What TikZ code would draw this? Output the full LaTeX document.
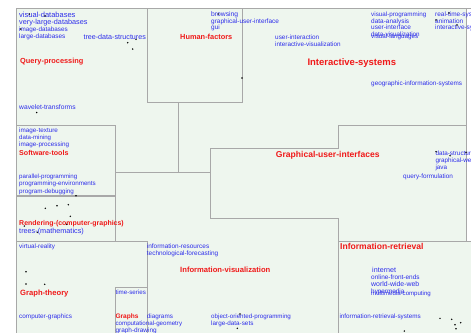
\documentclass[tikz,border=0pt]{standalone}
\usepackage{fontspec}
\setmainfont{Liberation Sans}
\usepackage{xcolor}
\usepackage{tikz}

\definecolor{mapgreen}{RGB}{238,246,238}
\definecolor{framegray}{RGB}{168,168,168}
\definecolor{termblue}{RGB}{45,45,235}
\definecolor{topicred}{RGB}{240,25,25}

\tikzset{
  term/.style={anchor=west, inner sep=0pt, text height=0.72em, text depth=0.2em,
    text=termblue, font=\fontsize{#1}{#1}\selectfont},
  term/.default=5.4,
  topic/.style={anchor=west, inner sep=0pt, text height=0.72em, text depth=0.2em,
    text=topicred, font=\fontsize{#1}{#1}\selectfont\bfseries},
  topic/.default=6.3,
  border/.style={draw=framegray, line width=0.8pt}
}

\begin{document}
\begin{tikzpicture}[x=0.03cm, y=-0.03cm]
\useasboundingbox (0,0) rectangle (471,333);
\clip (0,0) rectangle (471,333);

% background and frame
\fill[white] (0,0) rectangle (471,333);
\fill[mapgreen] (16,8) rectangle (471,333);
\fill[white] (466.5,8.5) rectangle (471,241.2);
\draw[border] (16,333) -- (16,8) -- (471,8);

% boxes
\draw[border] (147,8) -- (147,102) -- (242,102) -- (242,8);
\draw[border] (178,102) -- (178,172);
\draw[border] (115,172) -- (210,172);

\draw[border] (16,125) -- (115,125) -- (115,195) -- (16,195);
\draw[border] (16,196.5) -- (115,196.5) -- (115,241.7);

\draw[border] (16,241.7) -- (147,241.7) -- (147,333);
\draw[border] (115,333) -- (115,287.7) -- (147,287.7);

\draw[border] (338,333) -- (338,218.3) -- (210,218.3) -- (210,148) -- (338,148) -- (338,125) -- (466,125);
\draw[border] (466,8) -- (466,241.7);
\draw[border] (338,241.7) -- (471,241.7);

% Query-processing
\node[term=6.4] (visualdb) at (19,14) {visual-databases};
\node[term=6.2] (vldb) at (19,21.3) {very-large-databases};
\node[term] (imagedb) at (19,28.7) {image-databases};
\node[term=5.5] (largedb) at (19,35.3) {large-databases};
\node[term=6.1] (treeds) at (83.3,36.3) {tree-data-structures};
\node[topic] (queryproc) at (20,60.7) {Query-processing};
\node[term=5.7] (wavelet) at (19,106.3) {wavelet-transforms};

% Human-factors
\node[term=5.75] (browsing) at (211,13.3) {browsing};
\node[term=5.5] (gui) at (211,20) {graphical-user-interface};
\node[term=5.5] (guishort) at (211,26.7) {gui};
\node[topic] (humanf) at (180,36.7) {Human-factors};
\node[term=5.45] (userint) at (275,36) {user-interaction};
\node[term] (intvis) at (275,43.3) {interactive-visualization};

% Interactive-systems
\node[term=5.35] (visprog) at (371,13.3) {visual-programming};
\node[term=5.5] (dataan) at (371,20) {data-analysis};
\node[term=5.55] (userif) at (371,26.7) {user-interface};
\node[term=5.35] (datavis) at (371,33.3) {data-visualization};
\node[term=5.35] (vislang) at (371,35.3) {visual-languages};
\node[term=5.5] (realtime) at (435,13.3) {real-time-systems};
\node[term=5.5] (animation) at (435,20) {animation};
\node[term=5.5] (intsys) at (435,26.7) {interactive-systems};
\node[topic=8.1] (interactive) at (307.3,62) {Interactive-systems};
\node[term=5.45] (geoinfo) at (371,82.7) {geographic-information-systems};

% Software-tools
\node[term] (imgtex) at (19,129.3) {image-texture};
\node[term=5.2] (datamin) at (19,136) {data-mining};
\node[term] (imgproc) at (19,143.3) {image-processing};
\node[topic=6.05] (software) at (19,152.7) {Software-tools};
\node[term=5.25] (parprog) at (19,175.7) {parallel-programming};
\node[term=5.35] (progenv) at (19,182.3) {programming-environments};
\node[term=5.35] (progdebug) at (19,190) {program-debugging};

% Rendering
\node[topic=5.95] (rendering) at (19,222.7) {Rendering-(computer-graphics)};
\node[term=6.2] (trees) at (19,230) {trees-(mathematics)};

% Graphical-user-interfaces
\node[topic=7.3] (guis) at (275.7,154) {Graphical-user-interfaces};
\node[term] (datastruct) at (435.3,152.3) {data-structures};
\node[term] (graphweb) at (435.3,159.3) {graphical-web-browsing};
\node[term] (java) at (435.3,166.7) {java};
\node[term=5.45] (queryform) at (403,175.7) {query-formulation};

% Graph-theory and Graphs
\node[term] (virtreal) at (19,245.3) {virtual-reality};
\node[topic=6.5] (graphtheory) at (20,292.7) {Graph-theory};
\node[term=5.45] (compgraph) at (19,315.3) {computer-graphics};
\node[term=5.3] (timeseries) at (115.3,291.7) {time-series};
\node[topic=5.6] (graphs) at (115.3,315.3) {Graphs};
\node[term=5.3] (compgeo) at (115.3,322.7) {computational-geometry};
\node[term=5.5] (graphdraw) at (115.3,329.3) {graph-drawing};

% Information-visualization
\node[term=5.5] (inforesources) at (146.7,245.3) {information-resources};
\node[term=5.5] (techfore) at (146.7,252.7) {technological-forecasting};
\node[topic=6.5] (infovis) at (180,269.3) {Information-visualization};
\node[term] (diagrams) at (146.7,315.3) {diagrams};
\node[term=5.3] (oop) at (211,315.3) {object-oriented-programming};
\node[term] (largesets) at (211,322.3) {large-data-sets};

% Information-retrieval
\node[topic=7.3] (inforet) at (340,246.7) {Information-retrieval};
\node[term=6.1] (internet) at (372,269) {internet};
\node[term=5.5] (online) at (371,276.7) {online-front-ends};
\node[term=5.9] (www) at (371,283.3) {world-wide-web};
\node[term] (hypermedia) at (371,290) {hypermedia};
\node[term=5.2] (multimedia) at (371,292) {multimedia-computing};
\node[term] (irsys) at (339.3,315.3) {information-retrieval-systems};

% dots
\fill (29.3,14) circle (0.8) (45,16) circle (0.8) (20.7,29) circle (0.8)
  (127.7,42.7) circle (0.8) (136,39.3) circle (0.8) (132.7,49) circle (0.8)
  (36.7,112.5) circle (0.8);
\fill (218.3,14) circle (0.8) (242,78) circle (0.8);
\fill (449,13) circle (0.8) (436,20) circle (0.8) (457,25) circle (0.8);
\fill (76,195.7) circle (0.8) (45.3,208.3) circle (0.8) (57,205.7) circle (0.8)
  (68.3,204.7) circle (0.8) (70.3,216.3) circle (0.8) (66.7,224.3) circle (0.8)
  (24.3,226) circle (0.8) (37.3,232.3) circle (0.8);
\fill (436,151.7) circle (0.8) (450,155.7) circle (0.8) (466,152.3) circle (0.8);
\fill (26,271.7) circle (0.8) (26,284) circle (0.8) (44.7,284.3) circle (0.8);
\fill (240,314) circle (0.8) (237.3,328.3) circle (0.8);
\fill (440,318.3) circle (0.8) (451.7,319.3) circle (0.8) (460.7,322.7) circle (0.8)
  (455,324.7) circle (0.8) (456,328.7) circle (0.8) (404.3,331) circle (0.8);

\end{tikzpicture}
\end{document}
